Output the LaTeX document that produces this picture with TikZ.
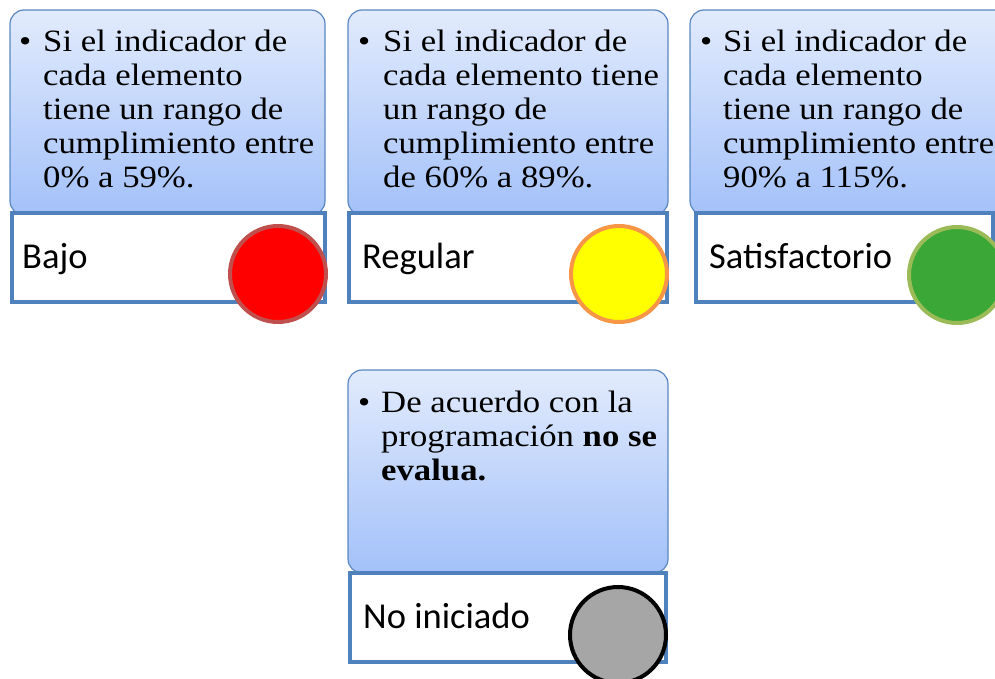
\documentclass[tikz,border=0pt]{standalone}
\usepackage{fontspec}
\setmainfont[FakeStretch=1.12]{Liberation Serif}
\newfontfamily\labelfont{Carlito}
\definecolor{cardtop}{HTML}{E2EBFD}
\definecolor{cardbot}{HTML}{A3C1F9}
\definecolor{cardline}{HTML}{5B87C0}
\definecolor{boxline}{HTML}{4F81BD}
\definecolor{redfill}{HTML}{FF0000}
\definecolor{redline}{HTML}{C0504D}
\definecolor{yelfill}{HTML}{FFFF00}
\definecolor{yelline}{HTML}{F79646}
\definecolor{grnfill}{HTML}{3AA736}
\definecolor{grnline}{HTML}{9BBB59}
\definecolor{gryfill}{HTML}{A6A6A6}
\tikzset{
  card/.style={draw=cardline, line width=1.2pt, rounded corners=14pt,
    top color=cardtop, bottom color=cardbot, inner sep=0pt},
  levelbox/.style={draw=boxline, line width=4pt, fill=white, inner sep=0pt},
  bullettext/.style={anchor=base west, inner sep=0pt, align=left,
    font=\fontsize{31}{34}\selectfont},
  levellabel/.style={anchor=base west, inner sep=0pt,
    font=\labelfont\fontsize{36.5}{40}\selectfont},
  lamp/.style={circle, line width=4pt, minimum size=96pt, inner sep=0pt}
}
\begin{document}
\begin{tikzpicture}[x=1pt,y=-1pt]
\useasboundingbox (0,0) rectangle (995,679);
% bajo
\node[card, minimum width=315pt, minimum height=205pt] (card1) at (167.5,112.5) {};
\node[levelbox, minimum width=313pt, minimum height=89pt] (box1) at (168,257.5) {};
\node[bullettext] (dot1) at (19,52) {\textbullet};
\node[bullettext] (txt1) at (43,188) {Si el indicador de\\cada elemento\\tiene un rango de\\cumplimiento entre\\0\% a 59\%.};
\node[levellabel] (lab1) at (22,268) {Bajo};
\node[lamp, fill=redfill, draw=redline] (lamp1) at (278,274) {};
% regular
\node[card, minimum width=320pt, minimum height=205pt] (card2) at (508,112.5) {};
\node[levelbox, minimum width=318pt, minimum height=89pt] (box2) at (508,257.5) {};
\node[bullettext] (dot2) at (358,52) {\textbullet};
\node[bullettext] (txt2) at (383,188) {Si el indicador de\\cada elemento tiene\\un rango de\\cumplimiento entre\\de 60\% a 89\%.};
\node[levellabel] (lab2) at (362,268) {Regular};
\node[lamp, fill=yelfill, draw=yelline] (lamp2) at (619,274) {};
% satisfactorio
\node[card, minimum width=320pt, minimum height=205pt] (card3) at (850,112.5) {};
\node[levelbox, minimum width=297pt, minimum height=89pt] (box3) at (844.5,257.5) {};
\node[bullettext] (dot3) at (700,52) {\textbullet};
\node[bullettext] (txt3) at (723,188) {Si el indicador de\\cada elemento\\tiene un rango de\\cumplimiento entre\\90\% a 115\%.};
\node[levellabel] (lab3) at (709,268) {Satisfactorio};
\node[lamp, fill=grnfill, draw=grnline] (lamp3) at (957,275) {};
% no iniciado
\node[card, minimum width=320pt, minimum height=203pt] (card4) at (508,471.5) {};
\node[levelbox, minimum width=316pt, minimum height=89pt] (box4) at (508,617.5) {};
\node[bullettext] (dot4) at (358,412) {\textbullet};
\node[bullettext] (txt4) at (381,480) {De acuerdo con la\\programación \textbf{no se}\\\textbf{evalua.}};
\node[levellabel] (lab4) at (363,628) {No iniciado};
\node[lamp, fill=gryfill, draw=black] (lamp4) at (618,635) {};
\end{tikzpicture}
\end{document}
